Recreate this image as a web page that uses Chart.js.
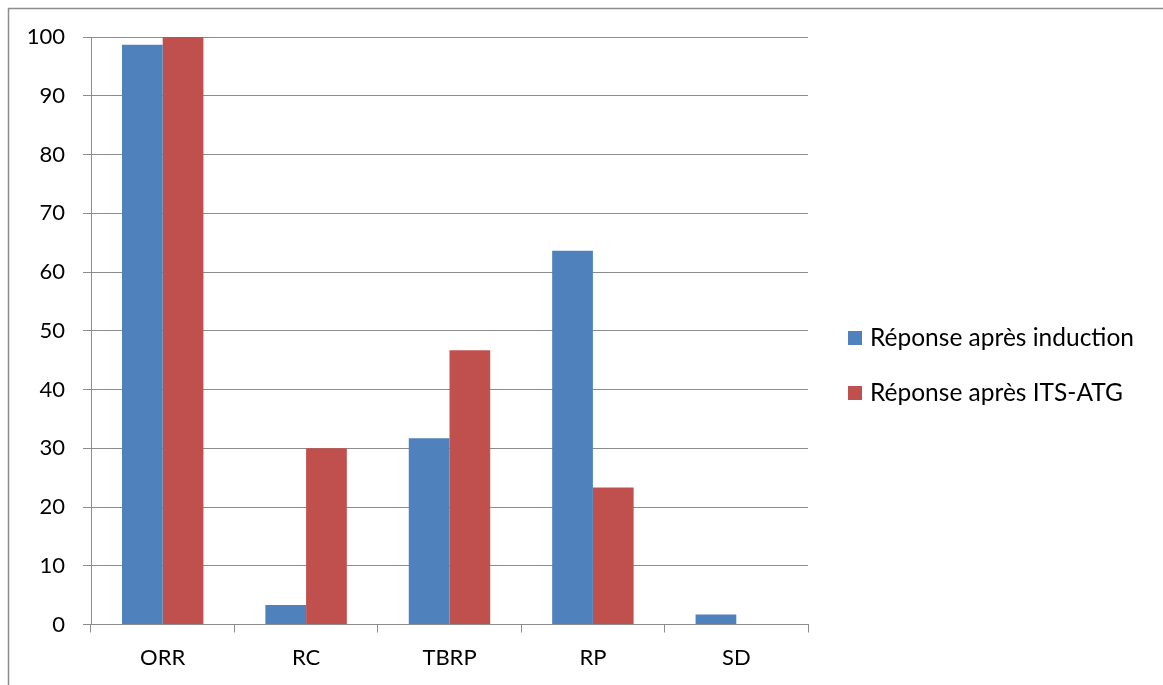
<!DOCTYPE html>
<html>
<head>
<meta charset="utf-8">
<script src="https://cdn.jsdelivr.net/npm/chart.js@4/dist/chart.umd.min.js"></script>
<style>
html,body{margin:0;padding:0;background:#fff;}
#wrap{position:absolute;left:0;top:0;width:1163px;height:685px;}
</style>
</head>
<body>
<div id="wrap"><canvas id="c" width="1163" height="685"></canvas></div>
<script>
const categories = ["ORR", "RC", "TBRP", "RP", "SD"];
const seriesNames = ["Réponse après induction", "Réponse après ITS-ATG"];
const induction = [98.7, 3.3, 31.7, 63.6, 1.7];
const itsAtg = [100, 30, 46.7, 23.3, 0];
const yTicks = [0, 10, 20, 30, 40, 50, 60, 70, 80, 90, 100];

const FONT = "Lato, 'Liberation Sans', sans-serif";
const GRID = "#8c8c8c";

const frame = {
  id: "frame",
  beforeDraw(chart) {
    const ctx = chart.ctx;
    ctx.save();
    ctx.fillStyle = "#fff";
    ctx.fillRect(0, 0, chart.width, chart.height);
    ctx.strokeStyle = "#8c8c8c";
    ctx.lineWidth = 1.5;
    ctx.strokeRect(8.5, 8.5, 1300, 800);
    ctx.restore();
  }
};

const customLegend = {
  id: "customLegend",
  afterDraw(chart) {
    const ctx = chart.ctx;
    ctx.save();
    ctx.font = "24.5px " + FONT;
    ctx.textBaseline = "middle";
    const x0 = 848, ys = [338, 393];
    chart.data.datasets.forEach((ds, i) => {
      ctx.fillStyle = ds.backgroundColor;
      ctx.fillRect(x0, ys[i] - 7, 14, 14);
      ctx.fillStyle = "#000";
      ctx.fillText(ds.label, x0 + 22, ys[i]);
    });
    ctx.restore();
  }
};

new Chart(document.getElementById("c"), {
  type: "bar",
  data: {
    labels: categories,
    datasets: [
      { label: seriesNames[0], data: induction, backgroundColor: "#4F81BD" },
      { label: seriesNames[1], data: itsAtg, backgroundColor: "#C0504D" }
    ]
  },
  options: {
    responsive: false,
    animation: false,
    devicePixelRatio: 1,
    datasets: { bar: { categoryPercentage: 0.568, barPercentage: 1.0 } },
    layout: { padding: { left: 0, top: 37, right: 355, bottom: 0 } },
    plugins: { legend: { display: false }, tooltip: { enabled: false } },
    scales: {
      x: {
        offset: true,
        grid: { offset: true, drawOnChartArea: false, color: GRID, tickLength: 8, tickColor: GRID },
        border: { color: GRID, width: 1 },
        ticks: { color: "#000", font: { family: FONT, size: 22 }, padding: 12, maxRotation: 0 },
        afterFit(s) { s.height = 685 - 624.5; }
      },
      y: {
        min: 0, max: 100,
        afterBuildTicks(s) { s.ticks = yTicks.map(v => ({ value: v })); },
        grid: { color: GRID, tickLength: 8, tickColor: GRID },
        border: { color: GRID, width: 1 },
        ticks: { color: "#000", font: { family: FONT, size: 22 }, padding: 18 },
        afterFit(s) { s.width = 91; }
      }
    }
  },
  plugins: [frame, customLegend]
});
</script>
</body>
</html>
